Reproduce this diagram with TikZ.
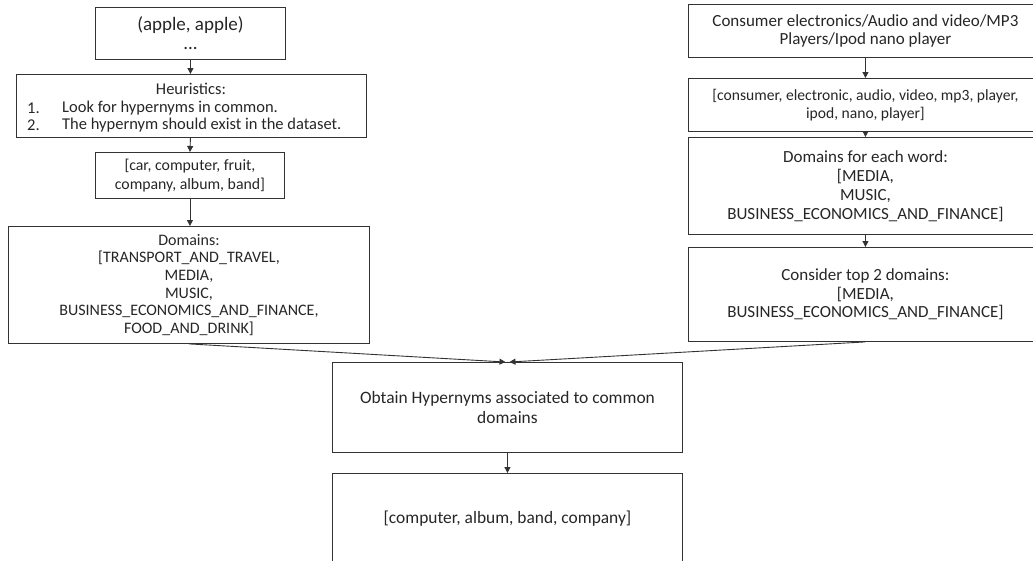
\documentclass[tikz,border=0pt]{standalone}
\usepackage{fontspec}
\setmainfont{Carlito}
\usetikzlibrary{arrows.meta}
\begin{document}
\begin{tikzpicture}[x=1pt,y=-1pt,
  box/.style={draw=black!80, line width=0.9pt, inner sep=0pt, align=center,
    font=\fontsize{16.5}{18.2}\selectfont, text=black!85, anchor=north west},
  txt/.style={inner sep=0pt, font=\fontsize{16.5}{18.2}\selectfont, text=black!85},
  arr/.style={-{Triangle[length=6pt,width=6pt]}, line width=0.9pt, draw=black!80}]
\useasboundingbox (0,0) rectangle (1033,560);
% left column
\node[box, minimum width=190, minimum height=52, font=\fontsize{19}{20}\selectfont] (pair) at (95,7) {(apple, apple)\\[-1pt]...};
\node[box, minimum width=350, minimum height=63] (heur) at (16,74) {};
\node[txt] (heurT) at (191,89) {Heuristics:};
\node[txt, anchor=west] (n1) at (27,108) {1.};
\node[txt, anchor=west] (t1) at (62,108) {Look for hypernyms in common.};
\node[txt, anchor=west] (n2) at (27,125) {2.};
\node[txt, anchor=west] (t2) at (62,125) {The hypernym should exist in the dataset.};
\node[box, minimum width=189, minimum height=46, font=\fontsize{15.8}{19}\selectfont] (cands) at (95,152) {[car, computer, fruit,\\company, album, band]};
\node[box, minimum width=361, minimum height=117, font=\fontsize{16}{17.7}\selectfont] (dom) at (8,226) {Domains:\\{}[TRANSPORT\_AND\_TRAVEL,\\MEDIA,\\MUSIC,\\BUSINESS\_ECONOMICS\_AND\_FINANCE,\\FOOD\_AND\_DRINK]};
% right column
\node[box, minimum width=354, minimum height=53, font=\fontsize{17}{18.5}\selectfont] (cat) at (688,4) {Consumer electronics/Audio and video/MP3\\Players/Ipod nano player};
\node[box, minimum width=354, minimum height=53, font=\fontsize{15.6}{17.8}\selectfont] (words) at (688,78) {[consumer, electronic, audio, video, mp3, player,\\ipod, nano, player]};
\node[box, minimum width=354, minimum height=97, font=\fontsize{17}{19}\selectfont] (each) at (688,137) {Domains for each word:\\{}[MEDIA,\\MUSIC,\\BUSINESS\_ECONOMICS\_AND\_FINANCE]};
\node[box, minimum width=354, minimum height=94, font=\fontsize{17}{18.7}\selectfont] (top2) at (688,247) {Consider top 2 domains:\\{}[MEDIA,\\BUSINESS\_ECONOMICS\_AND\_FINANCE]};
% bottom
\node[box, minimum width=350, minimum height=90, font=\fontsize{17.4}{20}\selectfont] (obt) at (332,362) {Obtain Hypernyms associated to common\\domains};
\node[box, minimum width=350, minimum height=90, font=\fontsize{17.4}{20}\selectfont] (res) at (332,473) {[computer, album, band, company]};
% connectors
\draw[arr] (pair.south) -- (pair.south |- heur.north);
\draw[arr] (pair.south |- heur.south) -- (cands.north);
\draw[arr] (cands.south) -- (cands.south |- dom.north);
\draw[arr] (cat.south) -- (words.north);
\draw[arr] (words.south) -- (each.north);
\draw[arr] (each.south) -- (top2.north);
\draw[arr] (dom.south) -- ([xshift=-2pt]obt.north);
\draw[arr] (top2.south) -- ([xshift=2pt]obt.north);
\draw[arr] (obt.south) -- (res.north);
\end{tikzpicture}
\end{document}
